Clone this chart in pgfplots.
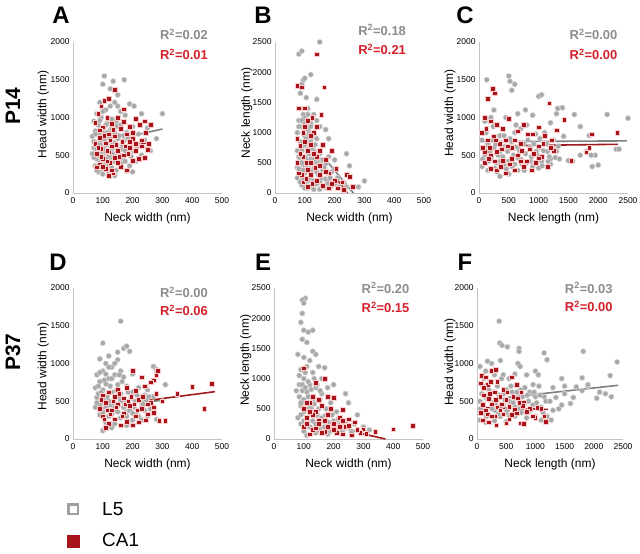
\documentclass[border=0pt]{standalone}
\usepackage{pgfplots}
\pgfplotsset{compat=1.18}
\usepackage{fontspec}
\setmainfont{Liberation Sans}
\definecolor{axgray}{HTML}{C4C4C4}
\definecolor{ptgray}{HTML}{A8A8A8}
\definecolor{ptedge}{HTML}{DADADA}
\definecolor{ptred}{HTML}{A8141C}
\definecolor{r2gray}{HTML}{8C8C8C}
\definecolor{r2red}{HTML}{D41F2B}
\definecolor{lgray}{HTML}{7F7F7F}
\definecolor{lred}{HTML}{9E1B1B}
\pgfplotsset{
  panel/.style={
    scale only axis, width=149bp, height=151bp, anchor=south west,
    axis lines*=left, axis line style={draw=axgray, line width=0.8bp},
    major tick length=0pt, clip=false,
    xmin=0, ymin=0, scaled ticks=false,
    /pgf/number format/assume math mode=true,
    /pgf/number format/set thousands separator={},
    tick label style={font=\fontsize{8.5}{9}\selectfont},
    xticklabel style={yshift=-1.5bp},
    label style={font=\fontsize{12}{14}\selectfont},
    xlabel style={at={(axis description cs:0.5,-0.165)}, anchor=center},
    ylabel style={at={(axis description cs:-0.2,0.52)}, anchor=center},
  },
  grays/.style={only marks, mark=*, mark size=2.7bp,
    mark options={fill=ptgray, draw=ptedge, line width=0.5bp}},
  reds/.style={only marks, mark=square*, mark size=2.3bp,
    mark options={fill=ptred, draw=white!80!red, line width=0.5bp}},
  gline/.style={no marks, draw=lgray, line width=1.6bp},
  rline/.style={no marks, draw=lred, line width=1.6bp},
}
\tikzset{
  r2g/.style={anchor=east, text=r2gray, font=\fontsize{13}{14}\selectfont\bfseries, inner sep=0pt},
  r2r/.style={anchor=east, text=r2red, font=\fontsize{13}{14}\selectfont\bfseries, inner sep=0pt},
  letter/.style={font=\fontsize{24}{26}\selectfont\bfseries},
}
\begin{document}
\begin{tikzpicture}
\useasboundingbox (0,0) rectangle (640bp,554bp);

% A
\begin{axis}[panel, at={(73bp,361bp)}, xmax=500, ymax=2000,
  xtick={0,100,...,500}, ytick={0,500,...,2000},
  xlabel={Neck width (nm)}, ylabel={Head width (nm)}]
\addplot[grays] coordinates {(105,1550)(135,1480)(172,1500)(100,1440)(125,1380)(150,1300)(118,1250)(90,1200)(140,1200)(190,1180)(205,1150)(300,1050)(230,1050)(110,1100)(80,1050)(160,1080)(175,1030)(95,1000)(130,980)(145,950)(70,950)(85,900)(115,920)(160,900)(200,880)(250,860)(100,860)(75,820)(125,830)(140,800)(180,800)(220,780)(90,780)(280,720)(65,750)(110,740)(150,720)(95,700)(170,690)(130,680)(80,660)(200,650)(115,640)(100,620)(145,610)(250,600)(70,600)(160,580)(85,570)(125,560)(190,560)(110,540)(95,520)(140,520)(75,500)(230,500)(170,490)(100,480)(130,460)(80,450)(150,440)(115,420)(90,400)(210,420)(160,390)(105,370)(75,360)(130,340)(95,320)(145,300)(180,290)(85,280)(120,260)(140,230)(100,250)(200,280)(70,470)(65,520)(240,700)(260,560)
(75,780)(85,620)(95,560)(105,700)(110,900)(120,480)(125,720)(135,600)(145,880)(155,760)(165,640)(175,560)(185,720)(195,480)(215,620)(120,380)(90,480)(100,800)(130,860)(150,540)(70,680)(80,580)(115,800)(140,660)(160,460)(170,760)(205,550)(225,620)(100,1080)(125,1150)(90,960)(150,1150)(80,300)(110,460)(135,420)(175,420)(190,360)(105,580)(90,640)(130,520)};
\addplot[reds] coordinates {(140,1370)(120,1250)(105,1220)(95,1150)(85,1050)(170,1110)(115,1000)(240,950)(260,900)(210,980)(225,900)(150,1000)(130,920)(75,930)(190,880)(100,870)(160,850)(245,800)(180,780)(120,780)(140,750)(90,730)(200,720)(230,700)(165,680)(110,660)(75,650)(255,650)(130,620)(190,600)(95,590)(150,560)(210,560)(120,540)(80,520)(170,500)(240,470)(140,470)(100,450)(200,430)(125,400)(90,380)(160,350)(110,320)(180,300)(80,340)(135,260)(120,230)(220,450)(185,520)
(105,760)(125,700)(145,640)(85,600)(175,620)(155,480)(95,480)(115,560)(200,800)(230,620)(135,840)(170,940)(90,830)(115,420)(150,400)(190,680)(250,570)(100,350)(130,300)(210,650)};
\addplot[gline] coordinates {(175,737)(300,847)};
\addplot[rline] coordinates {(190,632)(262,670)};
\node[r2g] at (axis description cs:0.906,1.05) {R\textsuperscript{2}=0.02};
\node[r2r] at (axis description cs:0.906,0.92) {R\textsuperscript{2}=0.01};
\end{axis}

% B
\begin{axis}[panel, at={(275bp,361bp)}, xmax=500, ymax=2500,
  xtick={0,100,...,500}, ytick={0,500,...,2500},
  xlabel={Neck width (nm)}, ylabel={Neck length (nm)},
  ylabel style={at={(axis description cs:-0.19,0.53)}}]
\addplot[grays] coordinates {(150,2500)(80,2300)(90,2350)(95,1870)(100,1900)(90,1800)(120,1960)(85,1650)(105,1580)(140,1550)(110,1400)(95,1300)(130,1300)(100,1250)(80,1200)(120,1150)(150,1100)(170,1050)(180,900)(90,1100)(110,1050)(130,1000)(75,1000)(100,950)(140,900)(85,850)(120,850)(160,800)(95,780)(110,720)(130,700)(75,700)(150,650)(180,600)(240,650)(100,600)(85,550)(120,560)(200,550)(140,500)(170,480)(95,470)(110,420)(130,400)(75,420)(160,380)(190,350)(250,450)(100,330)(145,300)(85,300)(120,260)(170,230)(210,250)(230,180)(300,200)(280,100)(100,180)(140,150)(90,130)(125,100)(160,100)(190,120)(110,80)(75,250)(200,400)(155,540)
(80,1100)(95,1000)(105,900)(115,980)(125,920)(90,700)(100,800)(115,650)(125,750)(135,800)(80,600)(90,500)(105,550)(115,480)(130,550)(145,450)(160,550)(80,400)(95,380)(120,350)(140,350)(155,250)(180,200)(200,150)(215,100)(95,250)(110,200)(130,200)(150,180)(175,150)(85,180)(100,80)(130,60)(150,60)(170,90)(90,1200)(110,1300)(120,1100)(100,1150)(140,1200)(165,420)(185,250)(240,100)};
\addplot[reds] coordinates {(140,2300)(75,1780)(90,1750)(165,1750)(100,1400)(80,1400)(155,1300)(110,1200)(140,1100)(130,1000)(75,900)(100,850)(120,800)(160,800)(85,780)(110,700)(150,700)(190,700)(140,600)(95,600)(170,550)(75,500)(120,500)(205,400)(110,380)(90,300)(150,300)(180,330)(240,300)(250,270)(225,180)(200,200)(95,180)(125,150)(160,120)(230,50)(105,240)(135,420)
(95,1000)(120,950)(85,650)(130,650)(105,500)(150,450)(170,350)(80,330)(120,300)(190,150)(210,80)(140,200)(110,100)(180,80)(260,100)(100,1100)(125,1250)};
\addplot[gline] coordinates {(169,557)(263,0)};
\addplot[rline] coordinates {(209,220)(243,0)};
\node[r2g] at (axis description cs:0.88,1.08) {R\textsuperscript{2}=0.18};
\node[r2r] at (axis description cs:0.88,0.95) {R\textsuperscript{2}=0.21};
\end{axis}

% C
\begin{axis}[panel, at={(479bp,361bp)}, xmax=2500, ymax=2000,
  xtick={0,500,...,2500}, ytick={0,500,...,2000},
  xlabel={Neck length (nm)}, ylabel={Head width (nm)},
  ylabel style={at={(axis description cs:-0.195,0.53)}}]
\addplot[grays] coordinates {(500,1550)(520,1480)(600,1440)(130,1500)(550,1360)(650,1050)(1000,1280)(1050,1300)(1320,1120)(1400,1130)(1600,1040)(2150,1040)(2500,990)(780,1100)(900,1030)(1200,930)(1300,1050)(1700,880)(1420,750)(1850,760)(2300,580)(2350,580)(1950,500)(1900,350)(2000,370)(1880,500)(1570,420)(1500,430)(100,950)(200,1000)(250,1100)(300,900)(400,850)(450,1000)(350,760)(600,800)(700,850)(800,900)(950,780)(1100,800)(1250,700)(50,700)(150,650)(250,600)(350,550)(450,620)(550,680)(650,600)(750,650)(850,600)(1000,600)(1150,550)(1300,550)(100,500)(200,450)(300,400)(400,480)(500,420)(600,380)(700,450)(800,400)(900,350)(1050,420)(1200,380)(50,350)(150,300)(300,280)(350,220)(500,250)(650,300)(1000,330)(1200,450)(1350,450)(1700,500)(1800,550)
(80,600)(120,800)(180,550)(220,700)(280,650)(320,500)(380,620)(420,380)(480,550)(520,720)(580,500)(620,900)(680,560)(720,380)(780,520)(820,700)(880,480)(920,650)(980,500)(1020,720)(1080,560)(1130,650)(1180,480)(1230,600)(1280,470)(1330,620)(60,450)(160,420)(260,330)(360,420)(460,320)(560,350)(660,460)(760,300)(860,420)(960,550)(1060,360)(1160,420)(240,880)(420,760)};
\addplot[reds] coordinates {(230,1380)(260,1320)(150,1250)(100,1000)(1180,1190)(1300,830)(1430,970)(2320,800)(1890,780)(1800,540)(1850,600)(1550,430)(1220,700)(200,950)(300,900)(400,850)(500,980)(650,820)(750,900)(900,780)(1000,870)(1100,760)(50,800)(150,700)(250,750)(350,650)(450,700)(550,600)(700,650)(850,580)(1000,620)(100,550)(200,500)(300,550)(400,430)(550,450)(650,500)(800,420)(950,400)(1150,350)(100,400)(200,320)(300,300)(450,260)(600,300)(750,350)(1050,480)
(120,850)(180,600)(280,700)(380,580)(480,620)(600,700)(720,560)(820,780)(920,520)(1080,650)(1250,560)(60,600)(160,450)(260,420)(360,350)(520,380)(700,420)(880,300)(1000,460)(1200,600)};
\addplot[gline] coordinates {(30,680)(2480,690)};
\addplot[rline] coordinates {(30,622)(2330,645)};
\node[r2g] at (axis description cs:0.93,1.05) {R\textsuperscript{2}=0.00};
\node[r2r] at (axis description cs:0.93,0.92) {R\textsuperscript{2}=0.00};
\end{axis}

% D
\begin{axis}[panel, at={(73bp,115bp)}, xmax=500, ymax=2000,
  xtick={0,100,...,500}, ytick={0,500,...,2000},
  xlabel={Neck width (nm)}, ylabel={Head width (nm)},
  ylabel style={at={(axis description cs:-0.2,0.48)}},
  legend style={at={(axis description cs:-0.06,-0.39)}, anchor=north west,
    draw=none, fill=none, font=\fontsize{19}{21}\selectfont, row sep=13bp,
    /tikz/every odd column/.append style={column sep=21bp}},
  legend cell align=left]
\addlegendimage{only marks, mark=square, mark size=4.8bp, mark options={draw=gray!75, line width=2.4bp, fill=white}}
\addlegendimage{only marks, mark=square*, mark size=6bp, mark options={draw=ptred, fill=ptred}}
\legend{L5, CA1}
\addplot[grays] coordinates {(160,1560)(100,1270)(150,1150)(170,1200)(180,1230)(190,1160)(120,1100)(90,1060)(110,1000)(150,1050)(130,950)(160,900)(100,900)(80,850)(140,850)(170,820)(120,800)(270,960)(280,920)(200,860)(90,760)(110,730)(150,720)(180,700)(220,680)(250,650)(310,720)(75,680)(100,650)(130,620)(160,600)(200,620)(240,580)(270,560)(80,550)(110,530)(140,540)(170,510)(210,500)(300,500)(95,480)(125,450)(150,440)(190,430)(230,420)(260,400)(75,420)(100,400)(140,380)(180,360)(210,330)(250,300)(280,260)(90,320)(120,300)(160,280)(200,250)(110,220)(140,200)(180,180)(100,110)(130,150)(240,380)(85,600)
(85,700)(95,620)(105,780)(115,560)(125,700)(135,480)(145,640)(155,560)(165,760)(175,450)(185,620)(195,540)(205,420)(215,580)(225,500)(235,460)(245,520)(255,560)(90,450)(100,350)(110,420)(120,500)(130,330)(140,420)(150,360)(160,500)(170,420)(180,300)(190,380)(200,340)(220,300)(230,250)(90,880)(110,860)(130,800)(120,950)(140,1000)(155,850)(100,520)(80,480)};
\addplot[reds] coordinates {(200,900)(230,820)(270,780)(280,850)(285,900)(260,750)(240,700)(210,640)(180,680)(150,650)(120,620)(100,580)(140,560)(170,540)(220,520)(260,480)(300,500)(350,600)(400,690)(465,730)(440,400)(290,240)(310,240)(110,480)(150,460)(190,440)(230,400)(270,420)(90,400)(130,380)(170,340)(210,300)(250,330)(100,300)(140,260)(180,230)(220,220)(120,200)(160,180)(200,180)(110,150)
(95,520)(115,380)(135,500)(155,600)(175,460)(195,560)(215,380)(235,560)(250,460)(105,260)(125,330)(145,420)(165,300)(185,500)(205,460)(245,250)(270,350)(280,600)};
\addplot[gline] coordinates {(200,500)(300,505)};
\addplot[rline] coordinates {(250,510)(476,627)};
\node[r2g] at (axis description cs:0.906,0.97) {R\textsuperscript{2}=0.00};
\node[r2r] at (axis description cs:0.906,0.85) {R\textsuperscript{2}=0.06};
\end{axis}

% E
\begin{axis}[panel, at={(274bp,115bp)}, xmax=500, ymax=2500,
  xtick={0,100,...,500}, ytick={0,500,...,2500},
  xlabel={Neck width (nm)}, ylabel={Neck length (nm)},
  ylabel style={at={(axis description cs:-0.19,0.52)}}]
\addplot[grays] coordinates {(105,2330)(95,2300)(100,2250)(95,2080)(90,1930)(100,1800)(130,1800)(115,1770)(95,1650)(110,1600)(130,1450)(140,1400)(80,1400)(100,1350)(120,1300)(150,1200)(170,1180)(110,1200)(90,1150)(130,1100)(160,1000)(200,900)(180,850)(100,1000)(85,900)(120,900)(140,850)(75,800)(110,780)(160,750)(240,750)(250,600)(100,650)(130,650)(190,600)(90,550)(120,550)(150,500)(210,450)(280,400)(100,450)(135,400)(170,380)(80,350)(110,320)(150,300)(200,300)(240,280)(270,250)(300,200)(90,250)(120,200)(160,180)(200,150)(230,130)(260,110)(100,130)(140,100)(180,80)(110,60)(320,150)
(85,700)(95,800)(105,600)(115,700)(125,500)(135,580)(145,400)(155,650)(165,300)(175,500)(185,250)(195,400)(205,200)(215,320)(225,250)(235,180)(90,400)(100,300)(110,500)(120,400)(130,300)(140,250)(150,150)(160,350)(170,200)(180,280)(190,130)(210,230)(250,180)(280,150)(95,900)(105,850)(115,950)(125,820)(135,1000)(145,900)(155,800)(85,1050)(105,1100)(90,600)};
\addplot[reds] coordinates {(100,1170)(170,1000)(140,930)(180,700)(200,680)(130,700)(120,600)(160,550)(100,500)(230,480)(140,450)(180,400)(220,350)(250,330)(110,350)(150,300)(200,250)(270,280)(240,200)(300,160)(290,100)(340,120)(400,160)(465,220)(100,200)(130,150)(170,120)(210,100)(120,80)(230,80)(260,60)(150,250)
(110,600)(130,400)(150,650)(170,300)(190,500)(110,250)(140,180)(160,100)(180,200)(200,150)(220,200)(250,220)(280,150)(310,90)(120,450)(230,300)};
\addplot[gline] coordinates {(152,352)(300,80)};
\addplot[rline] coordinates {(285,100)(374,0)};
\node[r2g] at (axis description cs:0.91,1.0) {R\textsuperscript{2}=0.20};
\node[r2r] at (axis description cs:0.91,0.87) {R\textsuperscript{2}=0.15};
\end{axis}

% F
\begin{axis}[panel, at={(477bp,115bp)}, width=146bp, xmax=2500, ymax=2000,
  xtick={0,500,...,2500}, ytick={0,500,...,2000},
  xlabel={Neck length (nm)}, ylabel={Head width (nm)},
  ylabel style={at={(axis description cs:-0.185,0.51)}}]
\addplot[grays] coordinates {(380,1560)(390,1270)(430,1240)(520,1220)(720,1200)(720,1160)(1150,1140)(1820,1160)(2400,1020)(180,1030)(250,1000)(400,1040)(700,1000)(740,960)(1200,1050)(50,960)(150,900)(300,850)(450,850)(550,800)(650,860)(850,850)(1000,900)(1050,850)(1450,800)(1800,810)(2280,840)(1300,680)(1500,700)(1700,690)(1900,700)(1600,470)(2050,540)(2300,560)(1400,400)(1450,450)(1300,380)(1200,300)(1270,250)(100,700)(200,650)(350,700)(500,650)(600,620)(750,650)(900,620)(1000,560)(1150,560)(50,500)(150,550)(250,480)(350,520)(450,450)(550,500)(650,420)(800,480)(950,450)(1100,420)(100,350)(200,320)(300,380)(400,300)(500,350)(650,300)(850,280)(1000,300)(50,250)(150,220)(300,240)(500,230)(1100,250)(1900,720)(2100,620)
(80,600)(120,800)(180,550)(220,750)(280,620)(320,450)(380,580)(420,800)(480,520)(520,380)(580,700)(620,480)(680,620)(720,400)(780,560)(820,680)(880,500)(920,380)(980,620)(1020,480)(1080,580)(1130,350)(1180,500)(60,400)(160,300)(260,400)(360,330)(460,600)(560,300)(660,540)(760,350)(860,580)(960,720)(1060,700)(1250,500)(1350,550)(1500,600)(1650,550)(1800,640)(2200,600)};
\addplot[reds] coordinates {(80,840)(150,820)(250,900)(320,920)(60,740)(180,720)(350,760)(600,820)(680,720)(760,620)(450,650)(300,620)(120,580)(200,530)(400,560)(500,520)(700,540)(800,480)(100,450)(250,460)(350,420)(550,430)(650,390)(780,440)(900,400)(1100,400)(60,350)(180,330)(300,300)(450,330)(600,320)(1000,280)(100,250)(200,220)(330,180)(500,210)(750,210)(800,200)(1180,230)(1030,410)
(120,680)(220,600)(320,520)(420,460)(520,620)(620,560)(720,480)(150,380)(250,300)(400,380)(550,260)(680,340)(850,360)(950,300)(1150,300)(240,760)};
\addplot[gline] coordinates {(514,550)(2414,711)};
\addplot[rline] coordinates {(51,416)(1216,392)};
\node[r2g] at (axis description cs:0.93,1.0) {R\textsuperscript{2}=0.03};
\node[r2r] at (axis description cs:0.93,0.88) {R\textsuperscript{2}=0.00};
\end{axis}

\node[letter] at (61bp,539bp) {A};
\node[letter] at (263bp,539bp) {B};
\node[letter] at (465bp,539bp) {C};
\node[letter] at (58bp,292bp) {D};
\node[letter] at (263bp,292bp) {E};
\node[letter] at (465bp,292bp) {F};
\node[font=\fontsize{21}{22}\selectfont\bfseries, rotate=90] at (13bp,448bp) {P14};
\node[font=\fontsize{21}{22}\selectfont\bfseries, rotate=90] at (13bp,202bp) {P37};
\end{tikzpicture}
\end{document}
